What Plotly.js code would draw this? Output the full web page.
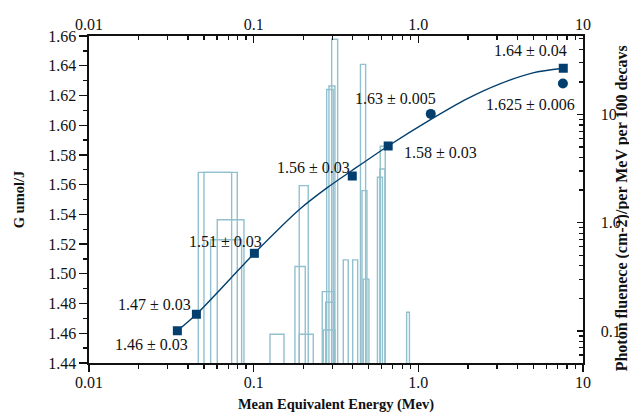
<!DOCTYPE html>
<html>
<head>
<meta charset="utf-8">
<script src="https://cdn.plot.ly/plotly-3.0.1.min.js"></script>
<style>html,body{margin:0;padding:0;background:#fff;}#chart{width:629px;height:414px;}</style>
</head>
<body>
<div id="chart"></div>
<script>
// ---- data ----
// photon fluence histogram (right log axis): bin edges (MeV) and heights
var binLo   = [0.0461, 0.0499, 0.0548, 0.0601, 0.1256, 0.1781, 0.1891, 0.1891, 0.2609, 0.2737, 0.2646, 0.2775, 0.2865, 0.2976, 0.350, 0.3992, 0.4452, 0.4546, 0.4629, 0.5645, 0.5844, 0.5869, 0.8492];
var binHi   = [0.0735, 0.0795, 0.0845, 0.0873, 0.1528, 0.2057, 0.2145, 0.2301, 0.3073, 0.3073, 0.3115, 0.3043, 0.3115, 0.3236, 0.3753, 0.4281, 0.4786, 0.4874, 0.5012, 0.6053, 0.6267, 0.6294, 0.8831];
var fluence = [2.92, 2.92, 0.696, 1.066, 0.0932, 0.394, 2.20, 0.0932, 0.231, 0.184, 0.102, 17.0, 18.3, 49.5, 0.454, 0.454, 29.0, 1.98, 0.301, 2.63, 3.14, 5.09, 0.149];
var histBase = 0.01;

// fitted curve (G vs mean equivalent energy)
var fitE = [0.0344, 0.0449, 0.101, 0.191, 0.2786, 0.3953, 0.656, 1.192, 1.973, 3.129, 4.963, 7.59];
var fitG = [1.4617, 1.4728, 1.5138, 1.5436, 1.5578, 1.5695, 1.586, 1.6039, 1.6177, 1.6278, 1.6352, 1.6383];

// square markers
var sqE = [0.0344, 0.0449, 0.101, 0.397, 0.656, 7.59];
var sqG = [1.4617, 1.4728, 1.5138, 1.5658, 1.586, 1.6383];
var sqLabels = ["1.46 ± 0.03", "1.47 ± 0.03", "1.51 ± 0.03", "1.56 ± 0.03", "1.58 ± 0.03", "1.64 ± 0.04"];

// circle markers
var circE = [1.19, 7.55];
var circG = [1.6076, 1.628];
var circLabels = ["1.63 ± 0.005", "1.625 ± 0.006"];

// tick labels
var xTickVals = [0.01, 0.1, 1, 10];
var xTickText = ["0.01", "0.1", "1.0", "10"];
var y2TickVals = [0.1, 1, 10];
var y2TickText = ["0.1", "1.0", "10"];

// ---- styling / placement ----
var sqShift = [[-26, -14], [-42, 10], [-29, 12], [-39, 9], [52, -7], [-33, 18]];
var circShift = [[-35, 15], [-32, -21]];
var navy = '#033f6e';
var teal = 'rgb(146,192,206)';
var FONT = 'Liberation Serif, Times New Roman, serif';

function minorLog(lo, hi) {
  var v = [];
  for (var d = lo; d < hi; d++) {
    for (var k = 2; k <= 9; k++) v.push(k * Math.pow(10, d));
  }
  return v;
}

// build histogram outlines
var hx = [], hy = [];
for (var i = 0; i < binLo.length; i++) {
  hx.push(binLo[i], binLo[i], binHi[i], binHi[i], null);
  hy.push(histBase, fluence[i], fluence[i], histBase, null);
}

var traces = [
  {x: hx, y: hy, xaxis: 'x', yaxis: 'y', mode: 'lines', type: 'scatter',
   line: {color: teal, width: 1.4}, hoverinfo: 'skip', showlegend: false, connectgaps: false},
  {x: fitE, y: fitG, xaxis: 'x', yaxis: 'y2', mode: 'lines', type: 'scatter',
   line: {color: navy, width: 1.4, shape: 'spline', smoothing: 0.8}, showlegend: false},
  {x: sqE, y: sqG, xaxis: 'x', yaxis: 'y2', mode: 'markers', type: 'scatter',
   marker: {symbol: 'square', size: 9, color: navy}, showlegend: false},
  {x: circE, y: circG, xaxis: 'x', yaxis: 'y2', mode: 'markers', type: 'scatter',
   marker: {symbol: 'circle', size: 10, color: navy}, showlegend: false},
  {x: [0.1], y: [1.5], xaxis: 'x2', yaxis: 'y2', mode: 'markers', type: 'scatter',
   marker: {opacity: 0}, hoverinfo: 'skip', showlegend: false}
];

var annotations = [];
for (var j = 0; j < sqE.length; j++) {
  annotations.push({x: Math.log10(sqE[j]), y: sqG[j], xref: 'x', yref: 'y2', text: sqLabels[j],
    showarrow: false, xanchor: 'center', yanchor: 'middle', xshift: sqShift[j][0], yshift: sqShift[j][1],
    font: {family: FONT, size: 16, color: '#111'}});
}
for (var c = 0; c < circE.length; c++) {
  annotations.push({x: Math.log10(circE[c]), y: circG[c], xref: 'x', yref: 'y2', text: circLabels[c],
    showarrow: false, xanchor: 'center', yanchor: 'middle', xshift: circShift[c][0], yshift: circShift[c][1],
    font: {family: FONT, size: 16, color: '#111'}});
}
annotations.push({x: 1.079, y: 0.473, xref: 'paper', yref: 'paper', text: '<b>Photon fluenece (cm-2)/per MeV per 100 decavs</b>',
  textangle: -90, showarrow: false, xanchor: 'center', yanchor: 'middle',
  font: {family: FONT, size: 16, color: '#111'}});

var axBase = {showgrid: false, zeroline: false, showline: true, linecolor: '#111', linewidth: 1.6,
  tickcolor: '#111', tickwidth: 1.3, tickfont: {family: FONT, size: 16, color: '#111'}};

var layout = {
  width: 629, height: 414,
  margin: {l: 89, r: 46, t: 36, b: 51, pad: 0},
  paper_bgcolor: '#fff', plot_bgcolor: '#fff',
  showlegend: false,
  font: {family: FONT, color: '#111'},
  xaxis: Object.assign({}, axBase, {
    type: 'log', range: [-2, 1], side: 'bottom', anchor: 'y2',
    tickmode: 'array', tickvals: xTickVals, ticktext: xTickText,
    ticks: 'outside', ticklen: 7, ticklabelstandoff: -3,
    minor: {tickmode: 'array', tickvals: minorLog(-2, 1), ticks: 'outside', ticklen: 4, tickcolor: '#111', tickwidth: 1.3},
    title: {text: '<b>Mean Equivalent Energy (Mev)</b>', font: {family: FONT, size: 14.5, color: '#111'}, standoff: 9}
  }),
  xaxis2: Object.assign({}, axBase, {
    type: 'log', range: [-2, 1], side: 'top', overlaying: 'x', anchor: 'y2',
    tickmode: 'array', tickvals: xTickVals, ticktext: xTickText,
    ticks: 'inside', ticklen: 7, ticklabelstandoff: -2,
    minor: {tickmode: 'array', tickvals: minorLog(-2, 1), ticks: 'inside', ticklen: 4, tickcolor: '#111', tickwidth: 1.3}
  }),
  yaxis: Object.assign({}, axBase, {
    type: 'log', range: [-1.296, 1.725], side: 'right', anchor: 'x',
    tickmode: 'array', tickvals: y2TickVals, ticktext: y2TickText,
    ticks: 'inside', ticklen: 6, ticklabelstandoff: 13,
    minor: {tickmode: 'array', tickvals: minorLog(-2, 2), ticks: 'inside', ticklen: 4, tickcolor: '#111', tickwidth: 1.3}
  }),
  yaxis2: Object.assign({}, axBase, {
    range: [1.44, 1.66], side: 'left', overlaying: 'y', anchor: 'x',
    tickmode: 'linear', tick0: 1.44, dtick: 0.02, tickformat: '.2f',
    ticks: 'outside', ticklen: 8,
    minor: {dtick: 0.01, ticks: 'outside', ticklen: 4, tickcolor: '#111', tickwidth: 1.3},
    title: {text: '<b>G umol/J</b>', font: {family: FONT, size: 14.5, color: '#111'}, standoff: 20}
  }),
  annotations: annotations
};

Plotly.newPlot('chart', traces, layout, {staticPlot: true, displayModeBar: false});
</script>
</body>
</html>
